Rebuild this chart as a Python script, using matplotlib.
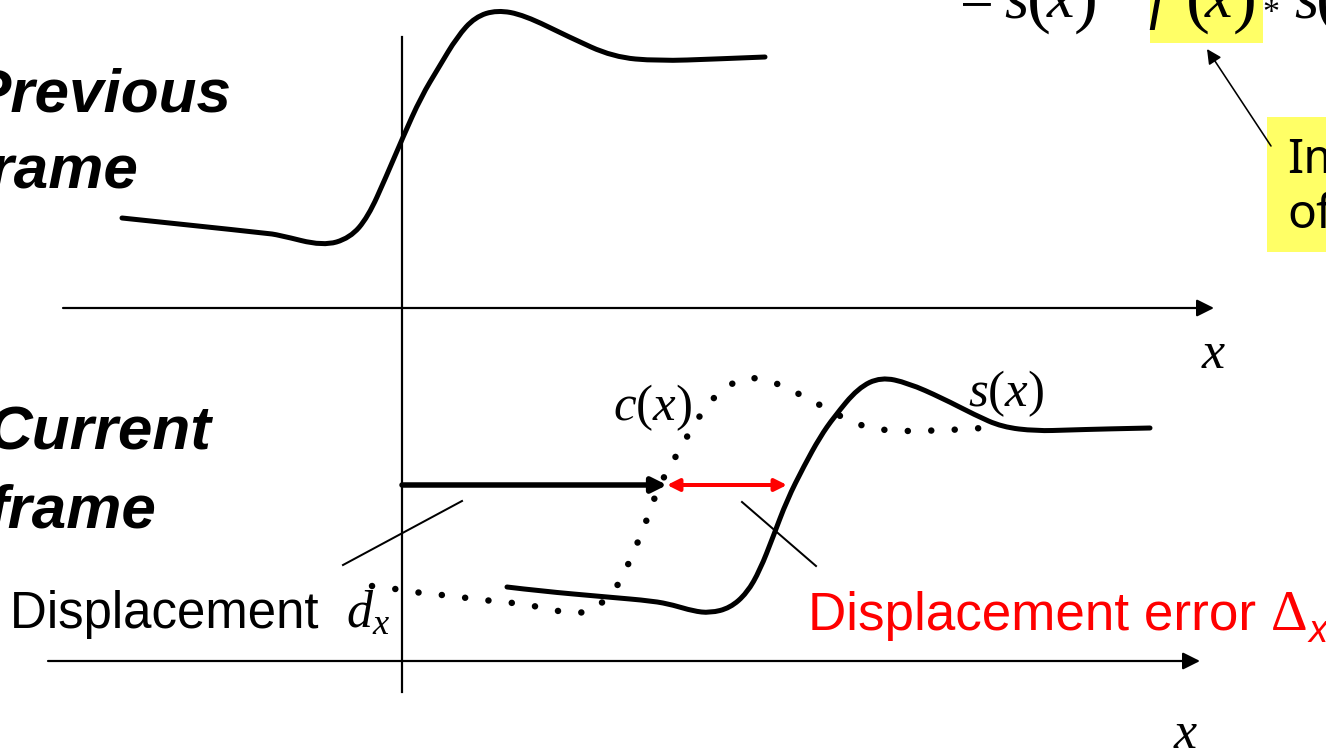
import matplotlib
matplotlib.use("Agg")
import matplotlib.pyplot as plt
from matplotlib.path import Path
from matplotlib.patches import PathPatch, Rectangle, FancyArrowPatch

plt.rcParams['mathtext.fontset'] = 'custom'
plt.rcParams['mathtext.rm'] = 'Liberation Serif'
plt.rcParams['mathtext.it'] = 'Liberation Serif:italic'
plt.rcParams['mathtext.bf'] = 'Liberation Serif:bold'

# ---- data (pixel-like units, y downward) ----
prev_x = [122, 265, 279, 323, 350, 368, 386, 403, 421, 439, 457, 475, 497, 524, 569, 613, 658, 716, 765]
prev_y = [218, 233, 235, 246, 238, 217, 177, 137, 97, 67, 37, 17, 10, 15, 37, 57, 61, 59, 57]

c_x = [372, 397, 420, 443, 467, 492, 515, 540, 562, 575, 587, 598, 614, 621, 631, 640, 649, 658,
       668, 680, 692, 705, 720, 740, 753, 777, 797, 820, 851, 874, 898, 921, 947, 970, 995]
c_y = [586, 589, 593, 595, 598, 601, 603, 607, 612, 613, 612, 607, 590, 580, 558, 537, 514, 488,
       470, 449, 428, 408, 391, 379, 377, 383, 393, 405, 422, 429, 431, 431, 430, 429, 427]

s_x = [507, 540, 607, 653, 673, 693, 710, 730, 747, 760, 773, 787, 804, 820, 834, 858, 881, 908,
       942, 975, 1002, 1036, 1069, 1103, 1150]
s_y = [587, 591, 597, 601, 605, 611, 613, 608, 593, 570, 537, 500, 466, 437, 417, 388, 377, 383,
       398, 415, 427, 431, 430, 429, 428]

labels_prev = ["Previous", "frame"]
labels_curr = ["Current", "frame"]
label_disp = "Displacement "
label_err = "Displacement error"

W, H = 1326, 750
fig = plt.figure(figsize=(W / 100, H / 100), dpi=100)
ax = fig.add_axes([0, 0, 1, 1])
ax.set_xlim(0, W)
ax.set_ylim(H, 0)
ax.axis('off')

PX = 0.72  # points per pixel


def smooth_path(xs, ys):
    pts = list(zip(xs, ys))
    verts = [pts[0]]
    codes = [Path.MOVETO]
    for i in range(1, len(pts) - 1):
        mid = ((pts[i][0] + pts[i + 1][0]) / 2, (pts[i][1] + pts[i + 1][1]) / 2)
        if i == len(pts) - 2:
            mid = pts[i + 1]
        verts += [pts[i], mid]
        codes += [Path.CURVE3, Path.CURVE3]
    return Path(verts, codes)


# curves
ax.add_patch(PathPatch(smooth_path(prev_x, prev_y), fill=False, lw=5 * PX, color='black',
                       capstyle='round', joinstyle='round'))
ax.add_patch(PathPatch(smooth_path(s_x, s_y), fill=False, lw=5 * PX, color='black',
                       capstyle='round', joinstyle='round'))
ax.add_patch(PathPatch(smooth_path(c_x, c_y), fill=False, lw=6.5 * PX, color='black',
                       linestyle=(0, (0.01, 3.6)), capstyle='round'))


def arrow(p0, p1, lw, color='black', style='-|>', ms=20, z=3):
    a = FancyArrowPatch(p0, p1, arrowstyle=style, mutation_scale=ms, lw=lw, color=color,
                        shrinkA=0, shrinkB=0, zorder=z)
    ax.add_patch(a)


# axes lines
arrow((63, 308), (1214, 308), 2.2 * PX, ms=26)
arrow((48, 661), (1200, 661), 2.2 * PX, ms=26)
ax.plot([402, 402], [37, 692], color='black', lw=2.2 * PX)

# displacement arrows
arrow((402, 485), (667, 485), 5.5 * PX, ms=22)
arrow((667, 485), (787, 485), 4 * PX, color='red', style='<|-|>', ms=18)

# leader lines
ax.plot([343, 462], [565, 501], color='black', lw=2 * PX)
ax.plot([742, 816], [502, 566], color='black', lw=2 * PX)

# labels on left
bi = dict(family='Liberation Sans', weight='bold', style='italic', fontsize=62 * PX,
          va='baseline', ha='left')
ax.text(-30, 112, labels_prev[0], **bi)
ax.text(-30, 188, labels_prev[1], **bi)
ax.text(-12, 450, labels_curr[0], **bi)
ax.text(-12, 527, labels_curr[1], **bi)

# displacement labels
ax.text(10, 628, label_disp, family='Liberation Sans', fontsize=51 * PX, va='baseline')
ax.text(346, 628, r'$d_x$', fontsize=52 * PX, va='baseline')
ax.text(808, 630, label_err, family='Liberation Sans', fontsize=53 * PX, va='baseline', color='red')
ax.text(1271, 630, 'Δ', family='Liberation Serif', fontsize=57 * PX, va='baseline', color='red')
ax.text(1309, 642, 'x', family='Liberation Sans', style='italic', fontsize=38 * PX,
        va='baseline', color='red')

# function labels
ax.text(613, 420, r'$c(x)$', fontsize=51 * PX, va='baseline')
ax.text(968, 406, r'$s(x)$', fontsize=51 * PX, va='baseline')
ax.text(1201, 368, r'$x$', fontsize=52 * PX, va='baseline')
ax.text(1173, 748, r'$x$', fontsize=52 * PX, va='baseline')

# top formula (cut by the image edge)
ax.add_patch(Rectangle((1150, -5), 113, 48, facecolor='#FFFF66', edgecolor='none', zorder=1))
ser = dict(family='Liberation Serif', va='baseline', zorder=2)
seri = dict(family='Liberation Serif', style='italic', va='baseline', zorder=2)
ax.text(960, 17, '=', fontsize=60 * PX, **ser)
ax.text(1004, 17, 's', fontsize=62 * PX, **seri)
ax.text(1027, 19, '(', fontsize=72 * PX, **ser)
ax.text(1047, 17, 'x', fontsize=62 * PX, **seri)
ax.text(1074, 19, ')', fontsize=72 * PX, **ser)
ax.text(1148, 17, 'f', fontsize=62 * PX, **seri)
ax.text(1186, 19, '(', fontsize=72 * PX, **ser)
ax.text(1205, 17, 'x', fontsize=62 * PX, **seri)
ax.text(1233, 19, ')', fontsize=72 * PX, **ser)
ax.text(1262, 22, '*', fontsize=34 * PX, **ser)
ax.text(1294, 17, 's', fontsize=62 * PX, **seri)
ax.text(1316, 19, '(', fontsize=72 * PX, **ser)

# right annotation box
ax.add_patch(Rectangle((1267, 117), 70, 135, facecolor='#FFFF66', edgecolor='none', zorder=1))
ax.text(1287, 173, 'Im', family='Noto Sans', fontsize=48 * PX, va='baseline', zorder=2)
ax.text(1287, 228, 'of', family='Noto Sans', fontsize=48 * PX, va='baseline', zorder=2)
arrow((1271, 146), (1207, 49), 1.6 * PX, ms=22)

fig.savefig('out.png', dpi=100)
